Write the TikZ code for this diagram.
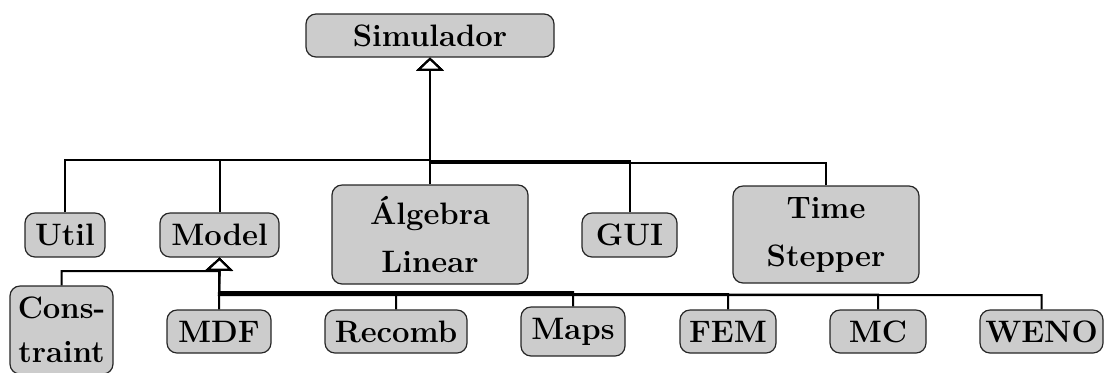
\documentclass[tikz,border=0pt]{standalone}
\usetikzlibrary{arrows.meta}
\tikzset{
  box/.style={draw=black!85, line width=0.6pt, fill=black!20, rounded corners=5pt,
    inner sep=0pt, align=center, font=\fontsize{15.5}{24}\selectfont\bfseries},
  gen/.style={line width=1pt, -{Triangle[open, length=6.5pt, width=13.5pt, fill=white]}},
}
\begin{document}
\begin{tikzpicture}[x=0.5pt,y=-0.5pt]
\useasboundingbox (0,0) rectangle (1108,372);

% top level
\node[box, minimum width=124pt, minimum height=21.5pt] (sim) at (430,35.5) {Simulador};

% packages of the simulator
\node[box, minimum width=40pt, minimum height=22pt] (util) at (65,235) {Util};
\node[box, minimum width=59.5pt, minimum height=22pt] (model) at (219.5,235) {Model};
\node[box, minimum width=98pt, minimum height=49.5pt] (alg) at (430,234.5) {Álgebra\\Linear};
\node[box, minimum width=47.5pt, minimum height=22pt] (gui) at (629.5,235) {GUI};
\node[box, minimum width=93pt, minimum height=48.5pt] (ts) at (826,234.5) {Time\\Stepper};

% models
\node[box, minimum width=51.5pt, minimum height=44pt] (cons) at (61.5,330) {Cons-\\[-2pt]traint};
\node[box, minimum width=52pt, minimum height=21.5pt] (mdf) at (219,331.5) {MDF};
\node[box, minimum width=71pt, minimum height=21.5pt] (recomb) at (396,331.5) {Recomb};
\node[box, minimum width=52pt, minimum height=24.5pt] (maps) at (573,331.5) {Maps};
\node[box, minimum width=48pt, minimum height=21.5pt] (fem) at (728,331.5) {FEM};
\node[box, minimum width=48pt, minimum height=21.5pt] (mc) at (878,331.5) {MC};
\node[box, minimum width=61.5pt, minimum height=21.5pt] (weno) at (1041.5,331.5) {WENO};

% junction points of the generalization trees
\coordinate (hubA) at (430,160);
\coordinate (hubB) at (219,293);
\coordinate (hubC) at (219,271);

% generalizations towards Simulador
\draw[gen] (util.north) |- (hubA) -- (sim.south);
\draw[gen] (model.north) |- (hubA) -- (sim.south);
\draw[gen] (alg.north) -- (sim.south);
\draw[gen] (gui.north) |- ([yshift=-0.6pt]hubA) -- (sim.south);
\draw[gen] (ts.north) |- ([yshift=-1.4pt]hubA) -- (sim.south);

% generalizations towards Model
\draw[gen] (cons.north) |- (hubC) -- (model.south);
\draw[gen] (mdf.north) -- (model.south);
\draw[gen] (recomb.north) |- (hubB) -- (model.south);
\draw[gen] (maps.north) |- ([yshift=0.5pt]hubB) -- (model.south);
\draw[gen] (fem.north) |- ([yshift=-0.6pt]hubB) -- (model.south);
\draw[gen] (mc.north) |- ([yshift=-0.8pt]hubB) -- (model.south);
\draw[gen] (weno.north) |- ([yshift=-1pt]hubB) -- (model.south);
\end{tikzpicture}
\end{document}
